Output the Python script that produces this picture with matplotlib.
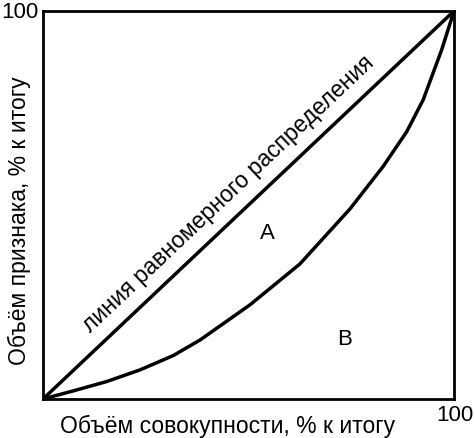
import matplotlib.pyplot as plt

# кривая Лоренца, % к итогу
share_pop = [0, 7.4, 15.5, 23.6, 31.7, 38.2, 50.4, 62.5, 74.7, 82.8, 88.5, 92.5, 97.0, 100]
share_attr = [0, 2.1, 4.5, 7.5, 11.2, 15.2, 24.3, 34.8, 49.0, 60.0, 68.9, 77.1, 90.0, 100]
equal_line = [0, 100]

plt.rcParams['font.family'] = ['Liberation Sans', 'DejaVu Sans']

fig = plt.figure(figsize=(4.74, 4.39), dpi=100)
ax = fig.add_axes([43 / 474, 39 / 439, 411 / 474, 388 / 439])

ax.plot(equal_line, equal_line, color='black', lw=2.5, solid_capstyle='round')
ax.plot(share_pop, share_attr, color='black', lw=2.5, solid_joinstyle='round')

ax.set_xlim(0, 100)
ax.set_ylim(0, 100)
ax.set_xticks([])
ax.set_yticks([])
for s in ax.spines.values():
    s.set_linewidth(2)

ax.text(45, 53, 'линия равномерного распределения', rotation=43.4,
        rotation_mode='anchor', ha='center', va='center', fontsize=16.5)
ax.text(54.7, 43.0, 'А', ha='center', va='center', fontsize=16)
ax.text(73.3, 15.5, 'В', ha='center', va='center', fontsize=16)

fig.text(20 / 474, 1 - 12 / 439, '100', ha='center', va='center', fontsize=16)
fig.text(455 / 474, 1 - 416 / 439, '100', ha='center', va='center', fontsize=16)
fig.text(228 / 474, 1 - 426 / 439, 'Объём совокупности, % к итогу',
         ha='center', va='center', fontsize=16.5)
fig.text(19 / 474, 1 - 221 / 439, 'Объём признака, % к итогу', rotation=90,
         ha='center', va='center', fontsize=16.5)

fig.savefig('out.png', dpi=100)
